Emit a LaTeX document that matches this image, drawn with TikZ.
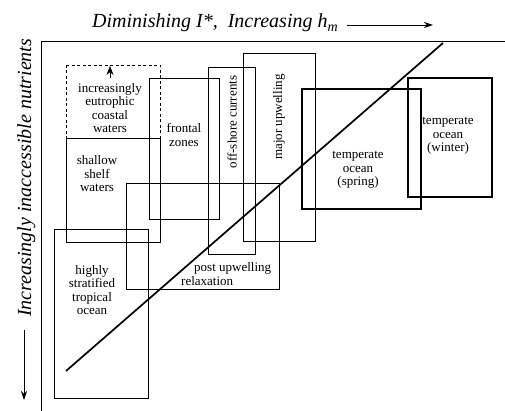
\documentclass[tikz,border=0pt]{standalone}
\usepackage{fontspec}
\setmainfont{Liberation Serif}
\usepackage{tikz}
\usetikzlibrary{arrows.meta}

\begin{document}
\begin{tikzpicture}[x=1pt,y=-1pt, zone/.style={draw=black,line width=0.9pt}, zonethick/.style={draw=black,line width=2.4pt}, lbl/.style={align=center,font=\fontsize{13}{13.5}\selectfont,inner sep=0pt}, axlbl/.style={font=\fontsize{20}{22}\selectfont\itshape,inner sep=0pt}]
\useasboundingbox (0,0) rectangle (505,411);
% frame and axis labels
\draw[line width=1pt] (41,411) -- (41,42) -- (505,42);
\node[axlbl,anchor=base west] (xlbl) at (92,28) {Diminishing I*,\ \ Increasing h\textsubscript{m}};
\coordinate (xa) at (347,25); \coordinate (xb) at (433,25);
\draw[line width=0.8pt,-{Stealth[length=9pt,width=6pt]}] (xa)--(xb);
\node[axlbl,anchor=base west,rotate=90] (ylbl) at (31,317) {Increasingly inaccessible nutrients};
\coordinate (ya) at (24,330); \coordinate (yb) at (24,400);
\draw[line width=0.8pt,-{Stealth[length=9pt,width=6pt]}] (ya)--(yb);
% zones
\draw[zone,dash pattern=on 3pt off 2.5pt] (66,65) rectangle (160,242);
\draw[zone] (66,138) rectangle (160,242);
\draw[zone] (149,78) rectangle (219,219);
\draw[zone] (208,67) rectangle (255,254);
\draw[zone] (243,53) rectangle (315,241);
\draw[zone] (126,183) rectangle (279,289);
\draw[zone] (54,229) rectangle (148,398);
\draw[zonethick] (302,89) rectangle (421,209);
\draw[zonethick] (408,78) rectangle (492,197);
\coordinate (ua) at (110,78); \coordinate (ub) at (110,66);
\draw[line width=0.6pt,-{Stealth[length=9pt,width=7pt]}] (ua)--(ub);
% labels
\node[lbl] (eutro) at (110,108) {increasingly\\eutrophic\\coastal\\waters};
\node[lbl] (frontal) at (184,135) {frontal\\zones};
\node[lbl] (shelf) at (97,174) {shallow\\shelf\\waters};
\node[lbl,rotate=90] (offshore) at (232,122) {off-shore currents};
\node[lbl,rotate=90] (major) at (279,117) {major upwelling};
\node[lbl] (spring) at (358,170) {temperate\\ocean\\(spring)};
\node[lbl] (winter) at (448,136) {temperate\\ocean\\(winter)};
\node[lbl,align=left,anchor=west] (postup) at (181,274) {\hspace*{13pt}post upwelling\\relaxation};
\node[lbl] (tropical) at (92,290) {highly\\stratified\\tropical\\ocean};
% trend line
\coordinate (lo) at (66,371); \coordinate (hi) at (443,43);
\draw[line width=1.7pt] (lo)--(hi);
\end{tikzpicture}
\end{document}
